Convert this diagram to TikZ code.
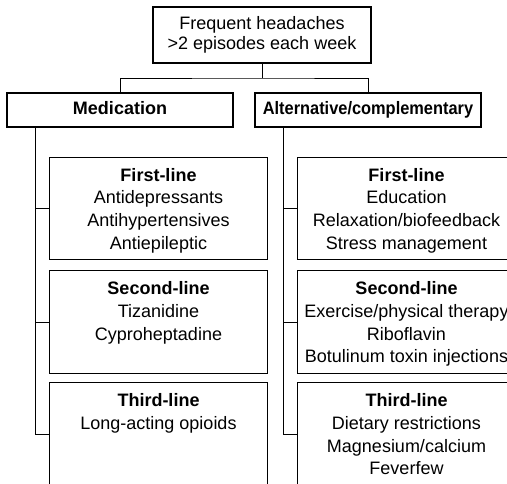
\documentclass[tikz,border=0pt]{standalone}
\usepackage{fontspec}
\setmainfont{Liberation Sans}
\usepackage{graphicx}
\usetikzlibrary{positioning}

\tikzset{
  box/.style={draw, line width=0.9pt, inner sep=0pt},
  topbox/.style={box, minimum width=163.5pt, minimum height=42pt, align=center,
    font=\fontsize{13.5}{15}\selectfont},
  headbox/.style={box, minimum width=169.5pt, minimum height=25.5pt,
    text height=9.8pt, text depth=2.9pt, font=\fontsize{13.5}{16}\selectfont\bfseries},
  linebox/.style={box, minimum width=163pt, minimum height=77pt},
  boxtext/.style={inner sep=0pt, align=center, font=\fontsize{13.5}{17}\selectfont},
  link/.style={line width=0.7pt},
}

\begin{document}
\begin{tikzpicture}[x=0.75pt,y=0.75pt,yscale=-1,xscale=1]
\useasboundingbox (0,0) rectangle (507,483);
\clip (0,0) rectangle (507,483);

%Shape: top box
\node[topbox] (top) at (262,35) {Frequent headaches\\>2 episodes each week};

%Shape: header boxes
\node[headbox] (med) at (120,110) {Medication};
\node[headbox] (alt) at (368,110) {\scalebox{0.91}[1]{Alternative/complementary}};

%Shape: medication boxes
\node[linebox] (m1) at (158.5,208.5) {};
\node[linebox] (m2) at (158.5,322) {};
\node[linebox] (m3) at (158.5,434) {};

%Shape: alternative boxes
\node[linebox] (a1) at (406.5,208.5) {};
\node[linebox] (a2) at (406.5,322) {};
\node[linebox] (a3) at (406.5,434) {};

% Text Node
\node[boxtext, below=8.5pt of m1.north] (m1txt) {\textbf{First-line}\\Antidepressants\\Antihypertensives\\Antiepileptic};
\node[boxtext, below=8.5pt of m2.north] (m2txt) {\textbf{Second-line}\\Tizanidine\\Cyproheptadine};
\node[boxtext, below=8.5pt of m3.north] (m3txt) {\textbf{Third-line}\\Long-acting opioids};
\node[boxtext, below=8.5pt of a1.north] (a1txt) {\textbf{First-line}\\Education\\Relaxation/biofeedback\\Stress management};
\node[boxtext, below=8.5pt of a2.north] (a2txt) {\textbf{Second-line}\\Exercise/physical therapy\\Riboflavin\\Botulinum toxin injections};
\node[boxtext, below=8.5pt of a3.north] (a3txt) {\textbf{Third-line}\\Dietary restrictions\\Magnesium/calcium\\Feverfew};

%Straight Lines: top split
\coordinate (split) at (262,78);
\draw[link] (top.south) -- (split);
\draw[link] (med.north) |- (split) -| (alt.north);

%Straight Lines: trunks
\coordinate (medtrunk) at (35,127);
\coordinate (alttrunk) at (283,127);
\draw[link] (medtrunk) |- (m3.west);
\draw[link] (medtrunk |- m1.west) -- (m1.west);
\draw[link] (medtrunk |- m2.west) -- (m2.west);
\draw[link] (alttrunk) |- (a3.west);
\draw[link] (alttrunk |- a1.west) -- (a1.west);
\draw[link] (alttrunk |- a2.west) -- (a2.west);
\end{tikzpicture}
\end{document}
